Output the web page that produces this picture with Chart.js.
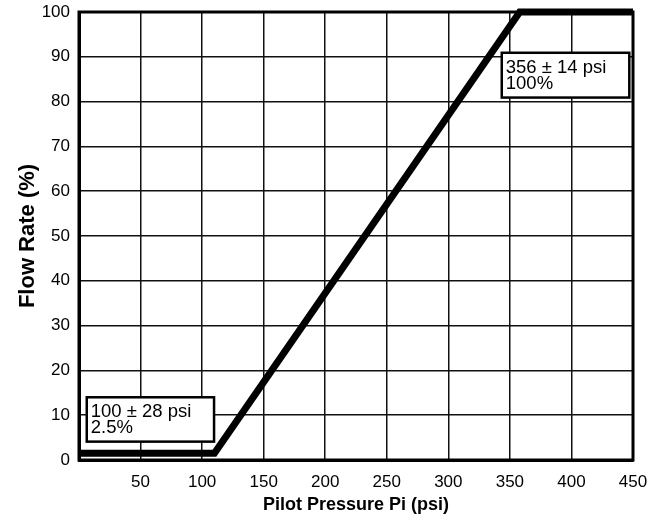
<!DOCTYPE html>
<html>
<head>
<meta charset="utf-8">
<script src="https://cdn.jsdelivr.net/npm/chart.js@4/dist/chart.umd.min.js"></script>
<style>
  html, body { margin: 0; padding: 0; background: #fff; }
  #wrap { width: 657px; height: 522px; }
</style>
</head>
<body>
<div id="wrap"><canvas id="c" width="657" height="522"></canvas></div>
<script>
// ---- data ----
const pressurePsi = [0, 110, 358, 450];
const flowPercent = [1.5, 1.5, 100, 100];
const xTickValues = [0, 50, 100, 150, 200, 250, 300, 350, 400, 450];
const yTickValues = [0, 10, 20, 30, 40, 50, 60, 70, 80, 90, 100];
const noteLines1 = ['100 \u00B1 28 psi', '2.5%'];
const noteLines2 = ['356 \u00B1 14 psi', '100%'];
// annotation boxes in data units: [xMin, xMax, yMin, yMax]
const noteBox1 = [6.3, 109.7, 4.1, 14.0];
const noteBox2 = [343.4, 447, 80.9, 90.9];

const tickFont = "'Liberation Sans Narrow', 'Liberation Sans', Arial, sans-serif";
const titleFont = "'Liberation Sans', Arial, sans-serif";

const frame = {
  id: 'frame',
  afterDatasetsDraw(chart) {
    const { ctx, chartArea: a } = chart;
    ctx.save();
    ctx.strokeStyle = '#000';
    ctx.lineWidth = 3;
    ctx.strokeRect(a.left, a.top, a.right - a.left, a.bottom - a.top);
    ctx.restore();
  }
};

const notes = {
  id: 'notes',
  afterDraw(chart) {
    const { ctx } = chart;
    const xs = chart.scales.x, ys = chart.scales.y;
    const draw = (box, lines) => {
      const l = xs.getPixelForValue(box[0]), r = xs.getPixelForValue(box[1]);
      const t = ys.getPixelForValue(box[3]), b = ys.getPixelForValue(box[2]);
      ctx.save();
      ctx.fillStyle = '#fff';
      ctx.fillRect(l, t, r - l, b - t);
      ctx.strokeStyle = '#000';
      ctx.lineWidth = 2.5;
      ctx.strokeRect(l, t, r - l, b - t);
      ctx.fillStyle = '#000';
      ctx.font = "18.5px " + titleFont;
      ctx.textBaseline = 'alphabetic';
      ctx.textAlign = 'left';
      ctx.fillText(lines[0], l + 4, t + 20);
      ctx.fillText(lines[1], l + 4, t + 36);
      ctx.restore();
    };
    draw(noteBox1, noteLines1);
    draw(noteBox2, noteLines2);
  }
};

new Chart(document.getElementById('c'), {
  type: 'line',
  data: {
    datasets: [{
      data: pressurePsi.map((x, i) => ({ x, y: flowPercent[i] })),
      borderColor: '#000',
      borderWidth: 7,
      pointRadius: 0,
      tension: 0,
      fill: false,
      clip: 8,
      borderJoinStyle: 'miter'
    }]
  },
  options: {
    responsive: false,
    animation: false,
    devicePixelRatio: 1,
    layout: { padding: { top: 12, right: 24, left: 0, bottom: 0 } },
    plugins: { legend: { display: false }, tooltip: { enabled: false } },
    scales: {
      x: {
        type: 'linear',
        min: 0, max: 450,
        afterBuildTicks(s) { s.ticks = xTickValues.map(v => ({ value: v })); },
        afterFit(s) { s.height = 62; s.paddingLeft = 0; s.paddingRight = 0; },
        ticks: {
          color: '#000',
          padding: 12,
          font: { family: tickFont, size: 17 },
          maxRotation: 0,
          callback: v => (v === 0 ? '' : String(v))
        },
        grid: { color: '#111', lineWidth: 1.5, drawTicks: false },
        border: { color: '#000', width: 3 },
        title: {
          display: true,
          text: 'Pilot Pressure Pi (psi)',
          color: '#000',
          font: { family: titleFont, size: 18, weight: 'bold' },
          padding: { top: 0, bottom: 6 }
        }
      },
      y: {
        type: 'linear',
        min: 0, max: 100,
        afterBuildTicks(s) { s.ticks = yTickValues.map(v => ({ value: v })); },
        afterFit(s) { s.width = 79; s.paddingTop = 0; s.paddingBottom = 0; },
        ticks: {
          color: '#000',
          padding: 9,
          font: { family: tickFont, size: 17 }
        },
        grid: { color: '#111', lineWidth: 1.5, drawTicks: false },
        border: { color: '#000', width: 3 },
        title: {
          display: true,
          text: 'Flow Rate (%)',
          color: '#000',
          font: { family: titleFont, size: 22, weight: 'bold' },
          padding: { top: 15, bottom: 0 }
        }
      }
    }
  },
  plugins: [frame, notes]
});
</script>
</body>
</html>
